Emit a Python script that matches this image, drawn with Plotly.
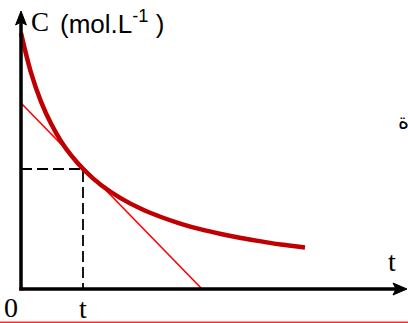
import plotly.graph_objects as go

# Concentration curve C(t) (arbitrary units)
t_values = [0, 0.5, 1, 1.5, 2, 2.5, 3.1, 4, 5, 6, 7, 8, 9, 10, 11, 12, 13, 14.2]
c_values = [12.8, 10.82, 9.37, 8.27, 7.39, 6.69, 6.0, 5.2, 4.53, 4.01, 3.6, 3.26,
            2.98, 2.75, 2.55, 2.38, 2.22, 2.07]

# tangent at t1
tangent_t = [0, 9.05]
tangent_c = [9.3, 0]
t1 = 3.1
c1 = 6.0

x_range = [-1.05, 19.35]
y_range = [-1.7, 14.45]

fig = go.Figure()

# dashed guide lines
fig.add_trace(go.Scatter(x=[0, t1, t1], y=[c1, c1, 0], mode="lines",
                         line=dict(color="black", width=1.8, dash="11px,5px"),
                         hoverinfo="skip", showlegend=False))
# tangent line
fig.add_trace(go.Scatter(x=tangent_t, y=tangent_c, mode="lines",
                         line=dict(color="#ff0000", width=1.6),
                         hoverinfo="skip", showlegend=False))
# curve
fig.add_trace(go.Scatter(x=t_values, y=c_values, mode="lines",
                         line=dict(color="#c00000", width=4.5, shape="spline"),
                         hoverinfo="skip", showlegend=False))

shapes = [
    # y axis
    dict(type="line", xref="x", yref="y", x0=0, x1=0, y0=-0.08, y1=13.4,
         line=dict(color="black", width=3.5)),
    # x axis
    dict(type="line", xref="x", yref="y", x0=-0.08, x1=18.8, y0=0, y1=0,
         line=dict(color="black", width=3.5)),
    # arrowheads
    dict(type="path", xref="x", yref="y",
         path="M -0.27 13.2 L 0 13.9 L 0.27 13.2 L 0 13.35 Z",
         fillcolor="black", line=dict(color="black", width=1)),
    dict(type="path", xref="x", yref="y",
         path="M 18.6 0.3 L 19.3 0 L 18.6 -0.3 L 18.75 0 Z",
         fillcolor="black", line=dict(color="black", width=1)),
    # bottom red rule
    dict(type="line", xref="paper", yref="paper", x0=0, x1=1, y0=0.002, y1=0.002,
         line=dict(color="#ff2a2a", width=1.5)),
]

serif = "Liberation Serif"
sans = "Liberation Sans"
annotations = [
    dict(x=0.4, y=13.35, xref="x", yref="y", text="C", showarrow=False,
         xanchor="left", yanchor="middle", font=dict(family=serif, size=27, color="black")),
    dict(x=1.85, y=13.35, xref="x", yref="y", text="(mol.L<sup>-1</sup> )", showarrow=False,
         xanchor="left", yanchor="middle", font=dict(family=sans, size=26, color="black")),
    dict(x=18.55, y=1.4, xref="x", yref="y", text="t", showarrow=False,
         xanchor="center", yanchor="middle", font=dict(family=serif, size=28, color="black")),
    dict(x=-0.5, y=-0.9, xref="x", yref="y", text="0", showarrow=False,
         xanchor="center", yanchor="middle", font=dict(family=serif, size=28, color="black")),
    dict(x=t1, y=-0.95, xref="x", yref="y", text="t", showarrow=False,
         xanchor="center", yanchor="middle", font=dict(family=serif, size=28, color="black")),
    dict(x=19.1, y=8.35, xref="x", yref="y", text="ة", showarrow=False,
         xanchor="center", yanchor="middle", font=dict(family="DejaVu Sans", size=21, color="black")),
]

fig.update_layout(
    width=408, height=323,
    margin=dict(l=0, r=0, t=0, b=0),
    paper_bgcolor="white", plot_bgcolor="white",
    xaxis=dict(range=x_range, visible=False, fixedrange=True),
    yaxis=dict(range=y_range, visible=False, fixedrange=True),
    shapes=shapes, annotations=annotations,
    showlegend=False,
)

fig.write_html("out.html", config={"displayModeBar": False},
               post_script="document.body.style.margin='0';document.body.style.padding='0';document.body.style.overflow='hidden';")
